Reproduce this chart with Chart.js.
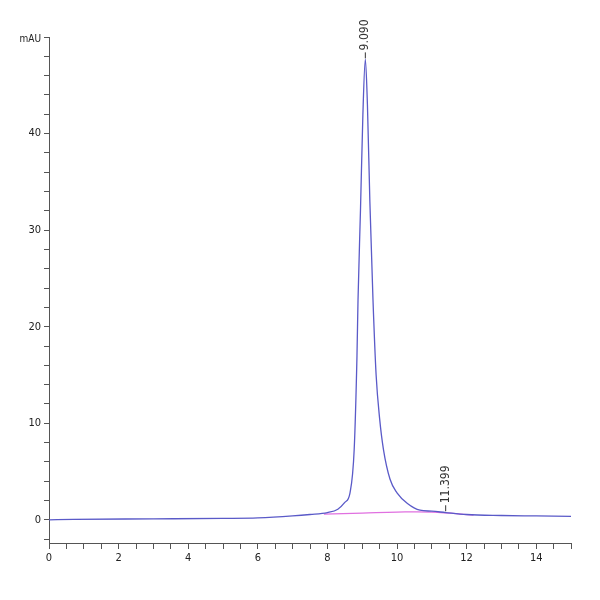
<!DOCTYPE html>
<html><head><meta charset="utf-8">
<script src="https://cdn.jsdelivr.net/npm/chart.js@4"></script>
<style>html,body{margin:0;padding:0;background:#fff}#w{width:600px;height:600px}</style>
</head><body><div id="w"><canvas id="c"></canvas></div>
<script>
const signalX = [0,0.7,3,5,6,7,7.5,8,8.3,8.5,8.65,8.77,8.85,8.88,8.95,9.02,9.09,9.15,9.22,9.31,9.4,9.5,9.61,9.8,10.0,10.3,10.66,11,11.4,12,13,14,15];
const signalY = [0,0.05,0.1,0.15,0.2,0.4,0.55,0.75,1.1,1.8,2.8,7.3,17,22.8,32,42,47.7,43,33,22.8,15,10.5,7.3,4.2,2.8,1.7,1.0,0.9,0.75,0.55,0.45,0.4,0.35];
const baseX = [7.9,9,10,11,12.2];
const baseY = [0.6,0.7,0.8,0.8,0.5];
const peakLabels = [{x:9.09,y:48.2,t:"9.090"},{x:11.399,y:1.3,t:"11.399"}];
const xMajor = [0,2,4,6,8,10,12,14];
const yMajor = [0,10,20,30,40];
const FONT = "'Liberation Sans Narrow','DejaVu Sans Condensed',Arial,sans-serif";

const labelPlugin = {id:'pk',afterDatasetsDraw(ch){
  const c=ch.ctx,xs=ch.scales.x,ys=ch.scales.y;
  c.save();c.fillStyle='#333';c.font='12px '+FONT;c.textAlign='left';c.textBaseline='middle';
  peakLabels.forEach(p=>{const px=xs.getPixelForValue(p.x),py=ys.getPixelForValue(p.y);
    c.strokeStyle='#333';c.lineWidth=1;c.beginPath();c.moveTo(px,py+4);c.lineTo(px,py-2);c.stroke();
    c.save();c.translate(px,py-4);c.rotate(-Math.PI/2);c.fillText(p.t,0,0);c.restore();});
  c.font='10px '+FONT;c.textAlign='right';c.fillStyle='#222';
  c.fillText('mAU',xs.left-8,ys.top+2);
  c.textAlign='left';c.textBaseline='top';c.fillText('mi',xs.right-10,xs.bottom+12);
  c.restore();}};

new Chart(document.getElementById('c'),{
  type:'line',
  data:{datasets:[
    {data:signalX.map((x,i)=>({x,y:signalY[i]})),borderColor:'#5a5ac8',borderWidth:1.3,pointRadius:0,tension:0.35,cubicInterpolationMode:'monotone'},
    {data:baseX.map((x,i)=>({x,y:baseY[i]})),borderColor:'#e070e0',borderWidth:1.3,pointRadius:0,tension:0.4}
  ]},
  options:{responsive:true,maintainAspectRatio:false,animation:false,
    layout:{padding:{top:37,right:29,left:0,bottom:0}},
    plugins:{legend:{display:false},tooltip:{enabled:false}},
    scales:{
      x:{type:'linear',min:0,max:15,
        afterFit:s=>{s.height=57;},
        afterBuildTicks:s=>{const t=[];for(let v=0;v<=15;v+=0.5)t.push({value:v});s.ticks=t;},
        grid:{display:true,drawOnChartArea:false,tickLength:6,color:'#555'},
        border:{color:'#555'},
        ticks:{autoSkip:false,maxRotation:0,color:'#222',font:{size:11,family:FONT},
          callback:v=>xMajor.includes(v)?String(v):''}},
      y:{type:'linear',min:-2.4,max:50,
        afterFit:s=>{s.width=49;},
        afterBuildTicks:s=>{const t=[];for(let v=-2;v<=50;v+=2)t.push({value:v});s.ticks=t;},
        grid:{display:true,drawOnChartArea:false,tickLength:5,color:'#555'},
        border:{color:'#555'},
        ticks:{autoSkip:false,color:'#222',font:{size:11,family:FONT},
          callback:v=>yMajor.includes(v)?String(v):''}}
    }},
  plugins:[labelPlugin]
});
</script></body></html>
